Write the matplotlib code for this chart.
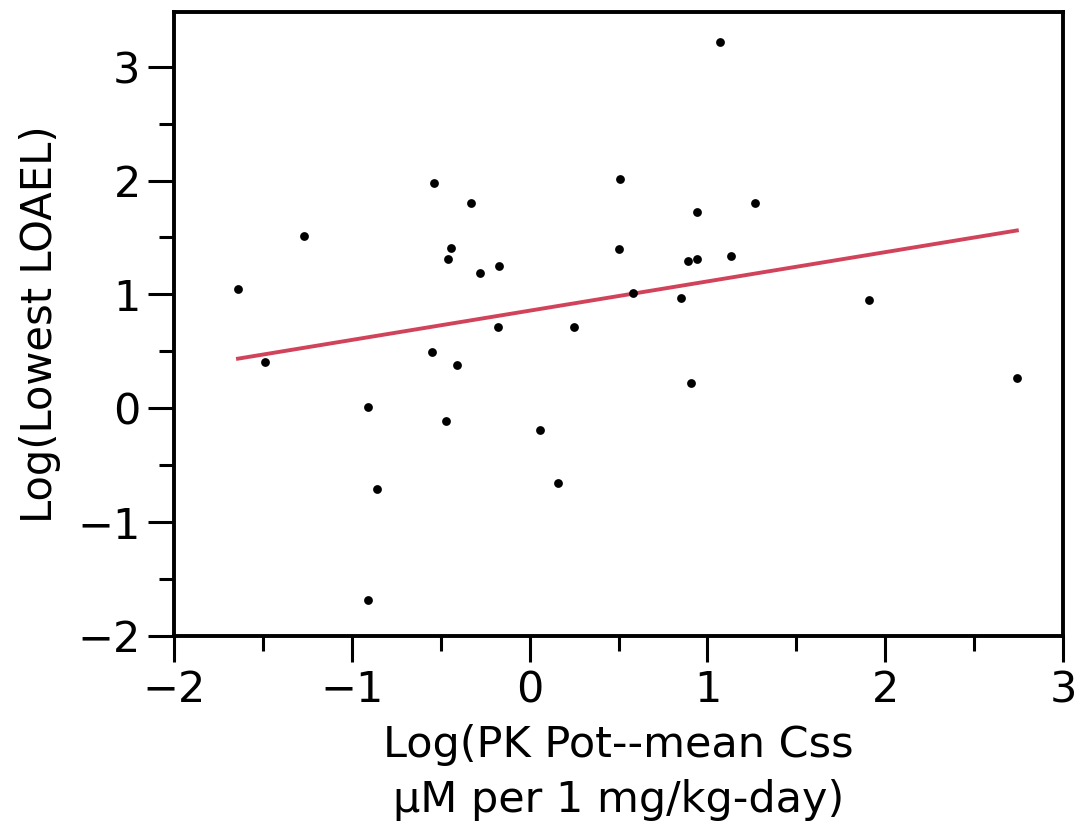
import numpy as np
import matplotlib
matplotlib.use('Agg')
import matplotlib.pyplot as plt
from matplotlib.ticker import MultipleLocator

# Log(PK potency - mean Css) vs Log(lowest LOAEL)
log_pk = [-1.64, -1.49, -1.27, -0.91, -0.91, -0.86, -0.55, -0.54, -0.47, -0.46,
          -0.44, -0.41, -0.33, -0.28, -0.17, -0.18, 0.06, 0.16, 0.25, 0.50,
          0.51, 0.58, 0.85, 0.89, 0.91, 0.94, 0.94, 1.07, 1.13, 1.27,
          1.91, 2.74]
log_loael = [1.05, 0.41, 1.51, -1.68, 0.01, -0.71, 0.49, 1.98, -0.11, 1.31,
             1.41, 0.38, 1.80, 1.19, 1.25, 0.71, -0.19, -0.66, 0.71, 1.40,
             2.01, 1.01, 0.97, 1.29, 0.22, 1.31, 1.72, 3.22, 1.34, 1.80,
             0.95, 0.27]

# fitted line as drawn
fit_slope = 0.257
fit_intercept = 0.857

plt.rcParams['font.family'] = 'DejaVu Sans'

fig = plt.figure(figsize=(10.76, 8.22), dpi=100)
ax = fig.add_axes([0.1617, 0.2263, 0.8263, 0.7591])

ax.scatter(log_pk, log_loael, s=40, color='black', zorder=3, linewidths=0)
xs = np.array([min(log_pk), max(log_pk)])
ax.plot(xs, fit_intercept + fit_slope * xs, color='#d1435b', lw=2.8, zorder=2)

ax.set_xlim(-2, 3)
ax.set_ylim(-2, 3.48)
ax.xaxis.set_major_locator(MultipleLocator(1))
ax.xaxis.set_minor_locator(MultipleLocator(0.5))
ax.yaxis.set_major_locator(MultipleLocator(1))
ax.yaxis.set_minor_locator(MultipleLocator(0.5))

for sp in ax.spines.values():
    sp.set_linewidth(2.8)
ax.tick_params(which='major', direction='out', length=19, width=2.2, labelsize=31, pad=5)
ax.tick_params(which='minor', direction='out', length=11, width=2.2)

ax.set_ylabel('Log(Lowest LOAEL)', fontsize=30, labelpad=12)
ax.set_xlabel('Log(PK Pot--mean Css\nµM per 1 mg/kg-day)', fontsize=31,
              linespacing=1.4, labelpad=9)

plt.savefig('out.png', dpi=100)
